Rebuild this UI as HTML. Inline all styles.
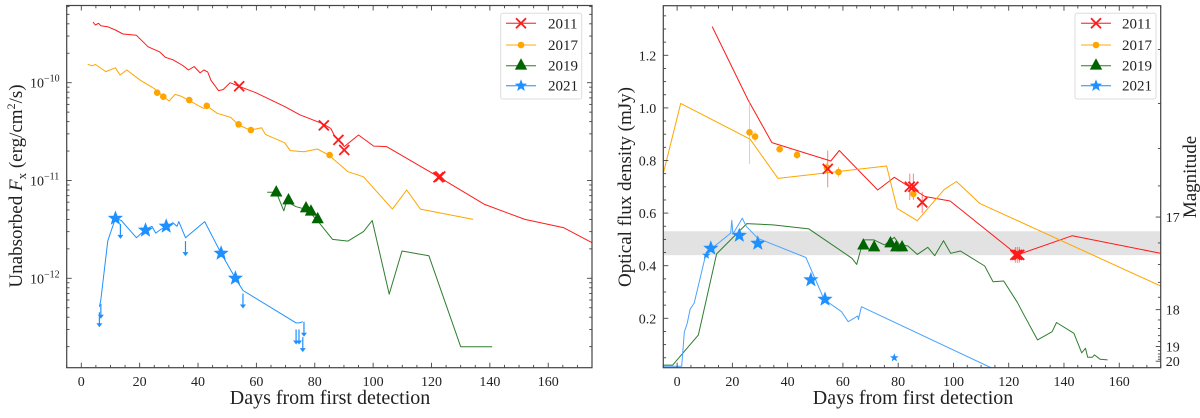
<!DOCTYPE html>
<html><head><meta charset="utf-8">
<style>
html,body{margin:0;padding:0;background:#fff;}
svg, svg text, svg tspan{font-family:"Liberation Serif","DejaVu Serif",serif !important;}
</style></head>
<body>
<svg id="chart" width="1200" height="413" viewBox="0 0 1200 413" xmlns="http://www.w3.org/2000/svg" font-family="Liberation Serif, DejaVu Serif, serif">
<defs>
<clipPath id="clipL"><rect x="66.7" y="5.5" width="525.3" height="362.2"/></clipPath>
<clipPath id="clipR"><rect x="663.3" y="5.7" width="497.4" height="362"/></clipPath>
</defs>
<g id="left"></g>
<g id="right"></g>
</svg>
<script>
// ===== Left panel data (flux in units of 1e-12 erg/cm2/s) =====
const xr2011Days = [4.0,4.8,5.9,6.7,9.0,11.7,14.3,18.9,22.9,26.8,28.8,31.5,34.8,36.7,38.7,40.7,42.0,43.3,44.4,47.0,48.6,51.0,53.9,59.8,69.7,74.9,82.8,85.5,86.8,88.1,90.1,95.0,100.2,104.6,122.4,138.2,152.0,165.2,175.1];
const xr2011Flux = [417,389,405,383,374,346,315,305,233,207,182,171,150,135,146,126,135,129,106,83,85,100,92,79,57,47,38,34,28.5,26,22.2,29.2,22.5,22.2,10.9,5.7,4.0,3.3,2.3];
const xr2011MkDays = [54.1,83.1,88.1,90.1,122.4,123.0];
const xr2011MkFlux = [92,36.6,26,20.5,10.8,11.0];
const xr2017Days = [2.2,3.8,4.8,8.4,11.7,13.3,15.6,20.2,24.9,28.2,30.1,32.1,34.1,36.7,40.7,42.0,43.3,46.6,51.2,53.9,57.8,59.8,61.8,63.1,69.7,71.6,76.3,80.9,84.8,91.4,96.7,106.6,111.5,116.2,134.3];
const xr2017Flux = [154,149,154,130,142,120,135,106,87.5,72,65,76,73,66.5,57,54.6,57,48.6,44.2,36.9,32.8,33.6,34.7,29.6,24.3,20.2,19.7,21.0,18.2,12.3,10.9,5.1,8.0,5.1,4.0];
const xr2017MkDays = [26.0,28.1,37.0,43.0,53.9,58.1,85.1];
const xr2017MkFlux = [79,72,66.5,58,37.5,32.8,18.2];
const xr2019Days = [63.7,66.8,69.4,70.3,73.6,77.6,81.5,86.1,91.4,96.7,99.7,105.5,109.9,119.1,130.0,140.8];
const xr2019Flux = [7.6,7.6,4.9,6.1,5.4,5.0,3.7,2.5,2.4,3.0,3.9,0.69,1.9,1.7,0.2,0.2];
const xr2019MkDays = [66.8,71.0,77.0,78.7,81.0];
const xr2019MkFlux = [7.7,6.4,5.3,4.9,4.1];
const xr2021Days = [6.2,6.7,9.1,11.7,13.7,18.9,22.2,24.2,25.5,27.5,29.5,31.4,32.8,33.4,35.7,42.3,47.9,52.8,55.4,73.6,74.7,75.9];
const xr2021Flux = [0.51,0.6,2.42,4.1,3.9,2.6,3.2,3.4,2.9,3.2,3.4,3.7,3.4,3.8,2.6,3.8,1.8,1.0,0.75,0.35,0.35,0.36];
const xr2021MkDays = [11.7,22.0,29.1,47.9,52.8];
const xr2021MkFlux = [4.1,3.1,3.4,1.8,1.0];
const xr2021LimDays = [6.2,6.7,13.4,35.7,55.4,73.6,74.6,75.9,76.3];
const xr2021LimFlux = [0.45,0.55,3.6,2.4,0.7,0.30,0.30,0.25,0.36];
const xTickLabels = [0,20,40,60,80,100,120,140,160];
const yTickExpL = [-12,-11,-10];

// ===== Right panel data (mJy) =====
const op2011Days = [12.7,25.7,34.3,55.6,58.7,72.6,78.6,82.1,89.7,98.8,123.1,143.0,176];
const op2011Flux = [1.309,1.030,0.868,0.798,0.838,0.688,0.736,0.713,0.663,0.646,0.441,0.514,0.445];
const op2011MkDays = [54.5,84.2,85.5,88.7,122.4,123.1,123.8];
const op2011MkFlux = [0.768,0.70,0.70,0.641,0.441,0.441,0.441];
const op2011MkErr = [0.07,0.05,0.05,0.04,0.03,0.03,0.03];
const op2017Days = [-5,1.3,26.4,36.5,75.8,79.6,86.9,96.7,101.1,109.5,176];
const op2017Flux = [0.751,1.017,0.881,0.732,0.779,0.618,0.571,0.690,0.720,0.637,0.318];
const op2017MkDays = [26.2,28.2,37.1,43.4,54.2,58.4,85.5];
const op2017MkFlux = [0.907,0.891,0.843,0.821,0.773,0.756,0.673];
const op2017MkErr = [0.12,0.02,0.01,0.015,0.02,0.02,0.015];
const op2019Days = [-5,-1.6,7.7,14.3,25.2,34.7,47.7,63.3,65.0,67.4,71.2,75.1,78.6,80.4,83.5,86.9,90.7,93.2,96.4,99.0,102.5,111.3,114.3,118.2,123.1,125.2,130.4,135.7,137.3,143.6,146.4,147.8,148.6,150.3,151.0,153.1,155.8];
const op2019Flux = [0.022,0.022,0.137,0.445,0.56,0.555,0.54,0.428,0.405,0.498,0.498,0.479,0.508,0.481,0.475,0.443,0.470,0.438,0.495,0.447,0.456,0.399,0.339,0.342,0.261,0.219,0.118,0.149,0.184,0.143,0.069,0.086,0.052,0.052,0.061,0.044,0.042];
const op2019MkDays = [67.4,71.3,77.2,79.3,81.4];
const op2019MkFlux = [0.48,0.473,0.488,0.473,0.473];
const op2021Days = [-5,1.66,2.6,3.7,4.7,6.2,10.5,19.4,19.8,20.2,23.6,25.0,29.2,46.6,53.2,59.5,61.9,65.4,65.6,66.7,113.8,175];
const op2021Flux = [0.018,0.018,0.147,0.182,0.234,0.258,0.448,0.524,0.573,0.52,0.581,0.55,0.504,0.431,0.272,0.225,0.187,0.209,0.195,0.244,0.011,0.011];
const op2021MkDays = [12.2,22.5,29.2,48.4,53.5];
const op2021MkFlux = [0.466,0.515,0.485,0.346,0.272];
const op2021SmDays = [10.6,78.6];
const op2021SmFlux = [0.44,0.05];
const yTicksR = [0.2,0.4,0.6,0.8,1.0,1.2];
const magTicks = [17,18,19,20];
const bandLo = 0.440, bandHi = 0.531;

const NS = "http://www.w3.org/2000/svg";
const FONT = '"Liberation Serif","DejaVu Serif",serif';
function mk(tag, attrs, parent){const e=document.createElementNS(NS,tag);for(const k in attrs)e.setAttribute(k,attrs[k]);if(tag==='text'){e.style.fontFamily=FONT;}if(parent)parent.appendChild(e);return e;}

const C = {red:"#ff1a1a", orange:"#ffa500", green:"#006400", greenLine:"#2e7d2e", blue:"#1e90ff"};

const L = {x0:66.7,x1:592,y0:5.5,y1:367.7};
const R = {x0:663.3,x1:1160.7,y0:5.7,y1:367.7};
const xL = d => L.x0 + (d+5)*(L.x1-L.x0)/180;
const yL = f => 82.7 - (Math.log10(f)-2)*97.8;
const xR = d => R.x0 + (d+5)*(R.x1-R.x0)/180;
const yR = f => 55.3 + (1.2-f)*263;
const fMag = m => 0.585*Math.pow(10,-0.4*(m-17));

const gL = document.getElementById('left');
const gR = document.getElementById('right');

function polyline(g, xs, ys, fx, fy, color, name, w){
  const pts = xs.map((d,i)=>fx(d).toFixed(1)+","+fy(ys[i]).toFixed(1)).join(" ");
  const p = mk('polyline',{points:pts,fill:'none',stroke:color,'stroke-width':w||1,'stroke-linejoin':'round'},g);
  
  
  return p;
}
function xMark(g,x,y,s,color,name){
  const p = mk('path',{d:`M${x-s},${y-s}L${x+s},${y+s}M${x-s},${y+s}L${x+s},${y-s}`,stroke:color,'stroke-width':1.8,fill:'none'},g);
  
  
}
function dot(g,x,y,r,color,name){
  const c = mk('circle',{cx:x,cy:y,r:r,fill:color},g);
  
  
}
function tri(g,x,y,s,color,name){
  const p = mk('polygon',{points:`${x},${y-s} ${x+s*0.95},${y+s*0.75} ${x-s*0.95},${y+s*0.75}`,fill:color},g);
  
  
}
function star(g,x,y,Rr,color,name){
  let pts=[];
  for(let i=0;i<10;i++){const a=-Math.PI/2+i*Math.PI/5;const rr=i%2?Rr*0.42:Rr;pts.push((x+rr*Math.cos(a)).toFixed(1)+","+(y+rr*Math.sin(a)).toFixed(1));}
  const p = mk('polygon',{points:pts.join(" "),fill:color},g);
  
  
}
function errbar(g,x,y1,y2,color){
  const l = mk('line',{x1:x,x2:x,y1:y1,y2:y2,stroke:color,'stroke-width':1,opacity:0.55},g);
  
  
}

(function(){
  const plot = mk('g',{'clip-path':'url(#clipL)'},gL);
  polyline(plot,xr2011Days,xr2011Flux,xL,yL,C.red,'xray-2011-line');
  polyline(plot,xr2017Days,xr2017Flux,xL,yL,C.orange,'xray-2017-line');
  polyline(plot,xr2019Days,xr2019Flux,xL,yL,C.greenLine,'xray-2019-line');
  polyline(plot,xr2021Days,xr2021Flux,xL,yL,C.blue,'xray-2021-line');
  xr2011MkDays.forEach((d,i)=>xMark(plot,xL(d),yL(xr2011MkFlux[i]),5,C.red,'xray-2011-point'));
  xr2017MkDays.forEach((d,i)=>dot(plot,xL(d),yL(xr2017MkFlux[i]),3.3,C.orange,'xray-2017-point'));
  xr2019MkDays.forEach((d,i)=>tri(plot,xL(d),yL(xr2019MkFlux[i]),6.5,C.green,'xray-2019-point'));
  xr2021MkDays.forEach((d,i)=>star(plot,xL(d),yL(xr2021MkFlux[i]),8,C.blue,'xray-2021-point'));
  xr2021LimDays.forEach((d,i)=>{
    const x=xL(d), y=yL(xr2021LimFlux[i]);
    const l=mk('line',{x1:x,x2:x,y1:y,y2:y+13,stroke:C.blue,'stroke-width':1.2},plot);
    
    
    const h=mk('polygon',{points:`${x-3},${y+11} ${x+3},${y+11} ${x},${y+15}`,fill:C.blue},plot);
    
    
  });
  const fr=mk('rect',{x:L.x0,y:L.y0,width:L.x1-L.x0,height:L.y1-L.y0,fill:'none',stroke:'#444','stroke-width':1.2},gL);
  
  
  for(let d=-5; d<=175; d+=5){
    const x=xL(d); const major = d%20===0;
    const len = major?5:2.8;
    mk('line',{x1:x,x2:x,y1:L.y1,y2:L.y1-len,stroke:'#444','stroke-width':0.9},gL);
    mk('line',{x1:x,x2:x,y1:L.y0,y2:L.y0+len,stroke:'#444','stroke-width':0.9},gL);
  }
  xTickLabels.forEach(v=>{
    const t=mk('text',{x:xL(v),y:386,'font-size':14,'text-anchor':'middle',fill:'#222'},gL);
    t.textContent=v;
    
    
  });
  for(let e=-13;e<=-10;e++){
    for(let k=1;k<=9;k++){
      const f12 = k*Math.pow(10,e+12);
      const y=yL(f12);
      if(y<L.y0||y>L.y1) continue;
      const len = k===1?5:2.8;
      mk('line',{x1:L.x0,x2:L.x0+len,y1:y,y2:y,stroke:'#444','stroke-width':0.9},gL);
      mk('line',{x1:L.x1,x2:L.x1-len,y1:y,y2:y,stroke:'#444','stroke-width':0.9},gL);
    }
  }
  yTickExpL.forEach(e=>{
    const y=yL(Math.pow(10,e+12));
    const t=mk('text',{x:30,y:y+5,'font-size':14,fill:'#222'},gL);
    
    
    t.appendChild(document.createTextNode('10'));
    const s=mk('tspan',{'font-size':10,dy:-6},t); s.textContent='\u2212'+Math.abs(e);
  });
  const yl=mk('text',{x:0,y:0,'font-size':19,'text-anchor':'middle',fill:'#222',transform:'translate(22,186) rotate(-90)'},gL);
  
  
  yl.appendChild(document.createTextNode('Unabsorbed '));
  const fi=mk('tspan',{'font-style':'italic'},yl); fi.textContent='F';
  const fs=mk('tspan',{'font-size':13,dy:4},yl); fs.textContent='x';
  const f2=mk('tspan',{dy:-4},yl); f2.textContent=' (erg/cm';
  const f3=mk('tspan',{'font-size':12,dy:-7},yl); f3.textContent='2';
  const f4=mk('tspan',{dy:7},yl); f4.textContent='/s)';
  const xl=mk('text',{x:330,y:404,'font-size':20,'text-anchor':'middle',fill:'#222'},gL);
  xl.textContent='Days from first detection';
  
  
  legend(gL,500.7,13.3,81,85.7,506,536,548,'xray-legend');
})();

function legend(g,bx,by,bw,bh,lx0,lx1,tx,name){
  const lg=mk('g',{},g);
  
  
  mk('rect',{x:bx,y:by,width:bw,height:bh,rx:2,fill:'#fff','fill-opacity':0.85,stroke:'#ddd','stroke-width':1},lg);
  const rows=[['2011',C.red,'x'],['2017',C.orange,'o'],['2019',C.green,'t'],['2021',C.blue,'s']];
  const ys=[23.3,45,65.7,85.7];
  rows.forEach((r,i)=>{
    const y=ys[i]; const mx=(lx0+lx1)/2;
    const e=mk('g',{},lg);
    
    
    mk('line',{x1:lx0,x2:lx1,y1:y,y2:y,stroke:r[2]==='t'?C.greenLine:r[1],'stroke-width':1.3,opacity:0.75},e);
    if(r[2]==='x') xMark(e,mx,y,5,r[1],'legend-marker');
    if(r[2]==='o') dot(e,mx,y,3.3,r[1],'legend-marker');
    if(r[2]==='t') tri(e,mx,y-1,6.5,r[1],'legend-marker');
    if(r[2]==='s') star(e,mx,y,6.5,r[1],'legend-marker');
    const t=mk('text',{x:tx,y:y+5,'font-size':15,fill:'#222'},e); t.textContent=r[0];
  });
}

(function(){
  const plot = mk('g',{'clip-path':'url(#clipR)'},gR);
  const band=mk('rect',{x:R.x0,y:yR(bandHi),width:R.x1-R.x0,height:yR(bandLo)-yR(bandHi),fill:'#e2e2e2'},plot);
  
  
  polyline(plot,op2011Days,op2011Flux,xR,yR,C.red,'optical-2011-line');
  polyline(plot,op2017Days,op2017Flux,xR,yR,C.orange,'optical-2017-line');
  polyline(plot,op2019Days,op2019Flux,xR,yR,C.greenLine,'optical-2019-line');
  polyline(plot,op2021Days,op2021Flux,xR,yR,'#4aa3ff','optical-2021-line');
  op2011MkDays.forEach((d,i)=>{errbar(plot,xR(d),yR(op2011MkFlux[i]+op2011MkErr[i]),yR(op2011MkFlux[i]-op2011MkErr[i]),C.red);});
  op2017MkDays.forEach((d,i)=>{errbar(plot,xR(d),yR(op2017MkFlux[i]+op2017MkErr[i]),yR(op2017MkFlux[i]-op2017MkErr[i]),C.orange);});
  op2017MkDays.forEach((d,i)=>dot(plot,xR(d),yR(op2017MkFlux[i]),3.3,C.orange,'optical-2017-point'));
  op2011MkDays.forEach((d,i)=>xMark(plot,xR(d),yR(op2011MkFlux[i]),5,C.red,'optical-2011-point'));
  op2019MkDays.forEach((d,i)=>tri(plot,xR(d),yR(op2019MkFlux[i]),6.5,C.green,'optical-2019-point'));
  op2021MkDays.forEach((d,i)=>star(plot,xR(d),yR(op2021MkFlux[i]),8,C.blue,'optical-2021-point'));
  op2021SmDays.forEach((d,i)=>star(plot,xR(d),yR(op2021SmFlux[i]),4.5,C.blue,'optical-2021-small-point'));
  const fr=mk('rect',{x:R.x0,y:R.y0,width:R.x1-R.x0,height:R.y1-R.y0,fill:'none',stroke:'#444','stroke-width':1.2},gR);
  
  
  for(let d=-5; d<=175; d+=5){
    const x=xR(d); const major = d%20===0; const len=major?5:2.8;
    mk('line',{x1:x,x2:x,y1:R.y1,y2:R.y1-len,stroke:'#444','stroke-width':0.9},gR);
    mk('line',{x1:x,x2:x,y1:R.y0,y2:R.y0+len,stroke:'#444','stroke-width':0.9},gR);
  }
  xTickLabels.forEach(v=>{
    const t=mk('text',{x:xR(v),y:386,'font-size':14,'text-anchor':'middle',fill:'#222'},gR);
    t.textContent=v;
    
    
  });
  for(let i=1;i<=27;i++){
    const f=i*0.05; const y=yR(f); if(y<R.y0||y>R.y1) continue;
    const len = (i%4===0)?5:2.8;
    mk('line',{x1:R.x0,x2:R.x0+len,y1:y,y2:y,stroke:'#444','stroke-width':0.9},gR);
  }
  yTicksR.forEach(v=>{
    const t=mk('text',{x:R.x0-7,y:yR(v)+5,'font-size':14,'text-anchor':'end',fill:'#222'},gR);
    t.textContent=v.toFixed(1);
    
    
  });
  for(let m=16.2;m<=20.01;m+=0.2){
    const y=yR(fMag(m)); if(y<R.y0||y>R.y1) continue;
    const major=Math.abs(m-Math.round(m))<0.01;
    mk('line',{x1:R.x1,x2:R.x1-(major?5:2.8),y1:y,y2:y,stroke:'#444','stroke-width':0.9},gR);
  }
  magTicks.forEach(m=>{
    const t=mk('text',{x:R.x1+5,y:yR(fMag(m))+5,'font-size':14,fill:'#222'},gR);
    t.textContent=m;
    
    
  });
  const yl=mk('text',{x:0,y:0,'font-size':19,'text-anchor':'middle',fill:'#222',transform:'translate(631,187) rotate(-90)'},gR);
  yl.textContent='Optical flux density (mJy)';
  
  
  const ml=mk('text',{x:0,y:0,'font-size':19,'text-anchor':'middle',fill:'#222',transform:'translate(1196,177) rotate(-90)'},gR);
  ml.textContent='Magnitude';
  
  
  const xl=mk('text',{x:913,y:404,'font-size':20,'text-anchor':'middle',fill:'#222'},gR);
  xl.textContent='Days from first detection';
  
  
  legend(gR,1075,13.3,81,85.7,1081,1111,1122,'optical-legend');
})();
</script>
</body></html>
